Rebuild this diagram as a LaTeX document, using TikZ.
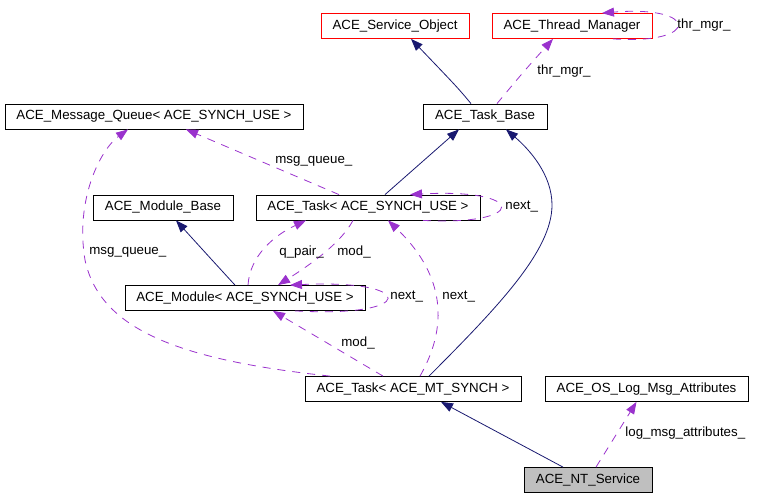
\documentclass[tikz,border=0pt]{standalone}
\usepackage{fontspec}
\setmainfont{Liberation Sans}
\usepackage{tikz}
\usetikzlibrary{arrows.meta}

\definecolor{navyline}{HTML}{191970}
\definecolor{useline}{HTML}{9A32CD}
\definecolor{keygray}{HTML}{BFBFBF}

\begin{document}
\begin{tikzpicture}[x=1pt, y=-1pt, line width=0.8pt,
    cls/.style={draw=black, fill=white, minimum height=25pt, inner sep=0pt, font=\fontsize{13.3}{16}\selectfont},
    lbl/.style={anchor=west, inner sep=0pt, font=\fontsize{13.3}{16}\selectfont},
    inh/.style={draw=navyline, -{Triangle[length=12pt,width=9pt]}},
    use/.style={draw=useline, dash pattern=on 8pt off 7pt, -{Triangle[length=12pt,width=9pt]}}]

    \useasboundingbox (0,0) rectangle (773,497);

    \node[cls, draw=red, minimum width=148pt] (so) at (395,26) {ACE\_Service\_Object};
    \node[cls, draw=red, minimum width=160pt] (tm) at (572,26) {ACE\_Thread\_Manager};
    \node[cls, minimum width=298pt] (mq) at (154,116.5) {ACE\_Message\_Queue< ACE\_SYNCH\_USE >};
    \node[cls, minimum width=124pt] (tb) at (485,116.5) {ACE\_Task\_Base};
    \node[cls, minimum width=140pt] (mb) at (163,207.5) {ACE\_Module\_Base};
    \node[cls, minimum width=224pt] (ts) at (368,207.5) {ACE\_Task< ACE\_SYNCH\_USE >};
    \node[cls, minimum width=240pt] (md) at (245,298) {ACE\_Module< ACE\_SYNCH\_USE >};
    \node[cls, minimum width=216pt] (tmt) at (413,389) {ACE\_Task< ACE\_MT\_SYNCH >};
    \node[cls, minimum width=203pt] (la) at (646.5,389) {ACE\_OS\_Log\_Msg\_Attributes};
    \node[cls, fill=keygray, minimum width=128pt] (nt) at (588,480) {ACE\_NT\_Service};

    \draw[inh] ([xshift=-14pt]tb.north) .. controls (458,88) .. ([xshift=16pt]so.south);
    \draw[use] ([xshift=12pt]tb.north) .. controls (525,70) .. ([xshift=-19pt]tm.south);
    \draw[use] ([xshift=41pt]tm.south) .. controls (700,45) and (700,5) .. ([xshift=30pt]tm.north);

    \draw[inh] ([xshift=17pt]ts.north) -- ([xshift=-26pt]tb.south);
    \draw[use] ([xshift=-29pt]ts.north) -- ([xshift=32pt]mq.south);
    \draw[use] ([xshift=55pt]ts.south) .. controls (528,226) and (528,188) .. ([xshift=42pt]ts.north);

    \draw[inh] ([xshift=-10pt]md.north) .. controls (212,260) .. ([xshift=13pt]mb.south);
    \draw[use] ([xshift=3pt]md.north) .. controls (250,255) and (275,235) .. ([xshift=-62pt]ts.south);
    \draw[use] ([xshift=-15pt]ts.south) .. controls (340,245) and (305,268) .. ([xshift=33pt]md.north);
    \draw[use] ([xshift=50pt]md.south) .. controls (418,318) and (418,279) .. ([xshift=45pt]md.north);

    \draw[use] ([xshift=-30pt]tmt.north) -- ([xshift=28pt]md.south);
    \draw[use] ([xshift=-83pt]tmt.north) .. controls (180,360) and (100,330) .. (85,260) .. controls (75,200) and (100,150) .. ([xshift=-26pt]mq.south);
    \draw[use] ([xshift=7pt]tmt.north) .. controls (452,320) and (440,270) .. ([xshift=20pt]ts.south);
    \draw[inh] ([xshift=16pt]tmt.north) .. controls (500,305) and (552,250) .. (552,205) .. controls (552,175) and (530,150) .. ([xshift=21pt]tb.south);

    \draw[inh] ([xshift=-25pt]nt.north) -- ([xshift=28pt]tmt.south);
    \draw[use] ([xshift=8pt]nt.north) -- ([xshift=-10pt]la.south);

    \node[lbl] (lthr) at (537,71) {thr\_mgr\_};
    \node[lbl] (lthrself) at (677,25) {thr\_mgr\_};
    \node[lbl] (lmq) at (275,161) {msg\_queue\_};
    \node[lbl] (lnext) at (505,207) {next\_};
    \node[lbl] (lqpair) at (279,252) {q\_pair\_};
    \node[lbl] (lmod) at (337,252) {mod\_};
    \node[lbl] (lnextmd) at (390,297) {next\_};
    \node[lbl] (lnextmt) at (442,297) {next\_};
    \node[lbl] (lmodmt) at (341,343) {mod\_};
    \node[lbl] (lmqmt) at (89,252) {msg\_queue\_};
    \node[lbl] (llog) at (625,433) {log\_msg\_attributes\_};

\end{tikzpicture}
\end{document}
